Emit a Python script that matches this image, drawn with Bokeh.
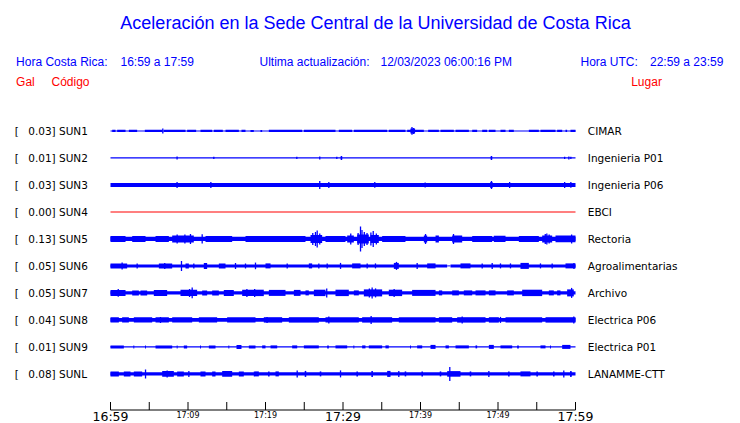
from bokeh.plotting import figure
from bokeh.models import Range1d
from bokeh.embed import file_html
from bokeh.resources import INLINE
from bokeh.core.properties import value

# ---------------- data ----------------
title_text = "Aceleración en la Sede Central de la Universidad de Costa Rica"
codes = ["SUN1", "SUN2", "SUN3", "SUN4", "SUN5", "SUN6", "SUN7", "SUN8", "SUN9", "SUNL"]
peaks = ["0.03", "0.01", "0.03", "0.00", "0.13", "0.05", "0.05", "0.04", "0.01", "0.08"]
places = ["CIMAR", "Ingenieria P01", "Ingenieria P06", "EBCI", "Rectoria",
          "Agroalimentarias", "Archivo", "Electrica P06", "Electrica P01", "LANAMME-CTT"]
trace_colors = ["#0000ff", "#0000ff", "#0000ff", "#ff0000", "#0000ff",
                "#0000ff", "#0000ff", "#0000ff", "#0000ff", "#0000ff"]
# background (noise) half amplitude of every trace, display units
base_amp = [0.5, 0.6, 2.0, 0.5, 2.2, 1.5, 1.6, 1.8, 0.6, 1.7]

# bursts: (start minute, end minute, half amplitude); spikes: (minute, half amplitude)
sun1_bursts = [(0.22, 0.65, 1.2), (0.86, 1.94, 1.2), (2.37, 3.44, 1.2), (4.43, 6.67, 1.2), (6.88, 9.68, 1.2),
               (9.89, 11.05, 1.2), (11.61, 13.12, 1.2), (13.33, 14.49, 1.2), (14.84, 16.56, 1.2), (16.9, 17.42, 1.2),
               (18.06, 18.49, 1.0), (19.35, 19.57, 1.0), (20.43, 24.73, 1.2), (24.95, 29.03, 1.2), (29.46, 31.18, 1.2),
               (31.4, 35.7, 1.2), (35.91, 38.06, 1.2), (38.28, 40.43, 1.2), (38.7, 39.3, 2.5), (40.99, 42.37, 1.2),
               (42.58, 44.3, 1.2), (44.52, 46.24, 1.2), (46.67, 47.31, 1.2), (47.96, 48.6, 1.2), (48.82, 49.68, 1.2),
               (50.32, 50.97, 1.2), (51.4, 52.04, 1.2), (53.98, 55.27, 1.2), (55.48, 57.42, 1.2), (57.63, 58.28, 1.2),
               (58.71, 58.92, 1.2), (59.35, 60.0, 1.2)]
sun1_spikes = [(6.75, 2.5), (38.9, 3.8), (39.1, 3.0)]
sun2_bursts = [(29.7, 29.9, 1.5), (49.05, 49.25, 1.5)]
sun2_spikes = [(8.59, 1.5), (13.33, 1.2), (24.04, 1.2), (27.0, 1.5), (29.2, 1.2), (29.8, 2.0),
               (49.16, 2.0), (58.6, 1.2), (59.14, 1.5), (59.4, 1.2)]
sun3_bursts = [(49.0, 49.3, 3.0)]
sun3_spikes = [(8.59, 3.0), (12.95, 3.0), (27.0, 4.0), (28.17, 3.0), (34.1, 2.8), (40.6, 2.5),
               (49.16, 4.0), (51.5, 3.0), (58.6, 3.0), (59.4, 2.8)]
sun4_bursts = []
sun4_spikes = []
sun5_bursts = [(0.0, 1.94, 3.0), (2.8, 4.52, 3.0), (5.81, 7.53, 3.0), (7.96, 10.75, 3.5), (12.26, 15.7, 3.0),
               (17.42, 25.16, 3.0), (25.81, 27.31, 4.0), (27.74, 30.32, 3.0), (30.54, 31.4, 3.5), (31.83, 33.33, 4.5),
               (33.55, 34.62, 4.0), (35.05, 38.06, 3.0), (40.43, 40.86, 3.5), (41.94, 42.37, 3.5), (44.09, 45.38, 3.5),
               (46.67, 49.25, 3.0), (49.46, 50.97, 3.2), (52.69, 55.27, 3.0), (55.7, 56.99, 3.5), (57.42, 60.0, 3.3)]
sun5_spikes = [(8.6, 4.5), (9.6, 4.5), (10.32, 5.0), (11.83, 4.7), (26.1, 6.0), (26.45, 7.0), (26.67, 8.5),
               (27.0, 5.5), (31.0, 5.5), (31.95, 6.0), (32.26, 12.5), (32.45, 9.0), (32.75, 7.0), (33.1, 6.0),
               (33.6, 6.5), (33.9, 8.0), (34.3, 5.5), (40.65, 5.0), (44.26, 5.0), (56.1, 5.0), (56.3, 5.5),
               (56.6, 4.5), (59.5, 4.5)]
sun6_bursts = [(0.0, 2.15, 2.5), (6.24, 7.96, 2.5), (9.68, 10.11, 2.5), (12.04, 12.47, 3.0), (13.98, 14.84, 2.5),
               (20.0, 20.65, 2.5), (25.59, 26.02, 2.5), (31.18, 32.26, 2.5), (36.56, 37.2, 3.0), (40.86, 41.94, 2.5),
               (45.16, 46.45, 2.5), (52.9, 53.98, 3.0), (58.71, 60.0, 2.5)]
sun6_spikes = [(1.5, 3.5), (3.44, 2.5), (7.0, 3.0), (9.16, 5.0), (10.75, 2.5), (16.13, 3.0), (17.42, 2.5),
               (18.71, 3.3), (22.8, 2.5), (26.88, 2.5), (27.96, 2.5), (29.68, 3.0), (33.12, 2.5), (34.19, 2.5),
               (36.9, 4.0), (39.57, 3.0), (47.96, 2.5), (49.25, 3.0), (50.32, 2.5), (51.61, 2.5), (55.48, 2.5),
               (56.99, 2.5), (59.8, 3.0)]
sun6_gaps = [(43.44, 43.87)]
sun7_bursts = [(0.0, 1.94, 3.0), (2.8, 3.66, 2.5), (3.87, 4.73, 2.5), (5.59, 7.31, 3.0), (9.03, 11.18, 3.2),
               (11.83, 12.47, 2.5), (13.12, 13.98, 2.5), (14.62, 15.91, 3.0), (16.99, 19.78, 3.2), (20.43, 22.58, 3.0),
               (23.66, 24.52, 3.0), (25.16, 25.59, 2.5), (26.24, 27.74, 3.2), (29.03, 30.75, 3.2), (31.4, 32.04, 2.5),
               (32.69, 35.05, 3.5), (35.91, 37.63, 3.2), (38.92, 41.94, 3.0), (42.37, 42.8, 2.5), (44.09, 44.95, 2.5),
               (45.59, 46.67, 2.5), (47.1, 48.39, 2.5), (48.82, 49.68, 2.5), (51.18, 52.04, 2.5), (53.12, 55.7, 3.2),
               (56.56, 57.2, 2.5), (57.63, 58.06, 2.5), (58.92, 59.78, 3.5)]
sun7_spikes = [(1.0, 3.8), (10.54, 5.3), (10.2, 4.0), (17.6, 4.0), (18.6, 4.0), (27.9, 4.5), (33.4, 4.5),
               (33.76, 5.5), (34.2, 4.5), (36.6, 4.0), (59.5, 5.0)]
sun8_bursts = [(0.0, 1.08, 2.7), (1.5, 2.37, 2.7), (3.01, 5.38, 2.7), (5.81, 7.53, 2.7), (7.96, 10.54, 2.7),
               (11.4, 13.76, 2.7), (15.05, 18.71, 2.7), (19.78, 22.15, 2.7), (23.01, 26.88, 2.7), (27.74, 32.04, 2.7),
               (32.47, 36.34, 2.7), (37.2, 41.94, 2.7), (42.37, 44.09, 2.7), (44.73, 48.39, 2.7), (48.82, 50.11, 2.7),
               (50.97, 55.7, 2.7), (56.13, 60.0, 2.7)]
sun8_spikes = [(6.45, 3.0), (20.2, 3.0), (28.17, 3.5), (33.63, 4.0), (45.38, 3.5), (50.32, 3.0), (59.78, 3.5)]
sun9_bursts = [(0.0, 1.72, 1.5), (2.95, 3.07, 1.5), (4.46, 4.58, 1.5), (5.81, 7.96, 1.5), (8.54, 8.66, 1.5),
               (9.46, 9.89, 1.5), (11.55, 11.67, 1.5), (12.69, 13.55, 1.5), (15.21, 15.33, 1.5), (16.26, 16.9, 2.0),
               (17.85, 18.71, 1.5), (19.57, 20.0, 1.5), (20.65, 21.51, 1.5), (23.44, 24.09, 1.5), (24.95, 26.88, 1.5),
               (27.96, 28.17, 1.5), (29.03, 30.54, 1.5), (31.34, 31.46, 1.5), (32.47, 32.9, 1.5), (33.33, 35.05, 1.5),
               (35.48, 35.91, 1.5), (38.65, 38.77, 1.5), (39.57, 40.22, 1.5), (41.29, 41.94, 2.0), (43.23, 43.66, 1.5),
               (44.52, 46.24, 1.5), (47.1, 47.31, 1.5), (48.82, 49.46, 2.0), (50.32, 51.83, 1.5), (52.47, 52.69, 1.5),
               (55.48, 56.13, 1.5), (56.71, 56.83, 1.5), (58.28, 59.35, 2.0)]
sun9_spikes = []
sunl_bursts = [(0.0, 1.08, 2.5), (1.72, 2.58, 2.5), (3.01, 4.09, 2.5), (6.67, 8.17, 2.8), (8.6, 9.46, 2.5),
               (11.61, 12.26, 2.5), (13.12, 13.55, 2.5), (14.41, 15.7, 2.8), (16.56, 17.2, 2.5), (18.49, 19.14, 2.5),
               (20.33, 20.53, 2.5), (21.29, 21.72, 2.5), (25.06, 25.26, 3.0), (27.0, 27.2, 2.5), (31.73, 31.93, 2.5),
               (33.66, 33.86, 3.0), (35.7, 36.13, 3.0), (37.96, 38.16, 2.5), (40.12, 40.32, 2.5), (42.48, 42.68, 2.5),
               (43.44, 45.16, 2.8), (46.35, 46.55, 2.5), (51.3, 51.5, 2.5), (52.9, 54.19, 2.5), (54.95, 55.15, 2.5),
               (57.1, 57.3, 2.5), (59.3, 59.5, 2.5)]
sunl_spikes = [(4.52, 4.5), (7.31, 3.5), (10.11, 3.0), (24.09, 3.5), (29.68, 3.5), (37.2, 3.0),
               (43.78, 7.0), (48.82, 3.0), (58.49, 3.5), (59.4, 3.0)]

all_bursts = [sun1_bursts, sun2_bursts, sun3_bursts, sun4_bursts, sun5_bursts,
              sun6_bursts, sun7_bursts, sun8_bursts, sun9_bursts, sunl_bursts]
all_spikes = [sun1_spikes, sun2_spikes, sun3_spikes, sun4_spikes, sun5_spikes,
              sun6_spikes, sun7_spikes, sun8_spikes, sun9_spikes, sunl_spikes]
all_gaps = [[], [], [], [], [], sun6_gaps, [], [], [], []]

trace_start, trace_end = 0.0, 60.0
tick_min = [0, 5, 10, 15, 20, 25, 30, 35, 40, 45, 50, 55, 60]
major_label_min = [0, 30, 60]
major_labels = ["16:59", "17:29", "17:59"]
minor_label_min = [10, 20, 40, 50]
minor_labels = ["17:09", "17:19", "17:39", "17:49"]

# ---------------- layout (canvas pixels) ----------------
W, H = 740, 423
PX_PER_MIN = 7.75
X0 = 110.0            # canvas px of minute 0
ROW0 = 130.4          # canvas px (from top) of first trace baseline
ROW_GAP = 27.0
AX_Y = 409.5


def mx(px):
    return (px - X0) / PX_PER_MIN


p = figure(width=W, height=H, output_backend="svg", toolbar_location=None,
           x_range=Range1d(-X0 / PX_PER_MIN, (W - X0) / PX_PER_MIN),
           y_range=Range1d(H, 0),
           x_axis_location=None, y_axis_location=None, min_border=0)
p.grid.visible = False
p.outline_line_color = None
p.background_fill_color = "white"
p.border_fill_color = "white"

# traces
ql, qr, qt, qb, qc = [], [], [], [], []
sx, sy0, sy1, sc = [], [], [], []
for i in range(len(codes)):
    yb = ROW0 + i * ROW_GAP
    col = trace_colors[i]
    pieces = []
    start = trace_start
    for g0, g1 in all_gaps[i]:
        pieces.append((start, g0, base_amp[i]))
        pieces.append((g0, g1, 0.5))
        start = g1
    pieces.append((start, trace_end, base_amp[i]))
    for t0, t1, a in pieces + all_bursts[i]:
        ql.append(t0); qr.append(t1); qt.append(yb - a); qb.append(yb + a); qc.append(col)
    for t, a in all_spikes[i]:
        sx.append(t); sy0.append(yb - a); sy1.append(yb + a); sc.append(col)

p.quad(left=ql, right=qr, top=qt, bottom=qb, fill_color=qc, line_color=None)
p.segment(x0=sx, x1=sx, y0=sy0, y1=sy1, line_color=sc, line_width=1.3)

# row labels
rows_y = [ROW0 + i * ROW_GAP for i in range(len(codes))]
lab_font = value("DejaVu Sans")
p.text(x=[mx(14.3)] * len(codes), y=rows_y, text=["["] * len(codes),
       text_font=lab_font, text_font_size="10.5px", text_color="black",
       text_align="left", text_baseline="middle")
p.text(x=[mx(27.7)] * len(codes), y=rows_y, text=[f"{pk}] {c}" for pk, c in zip(peaks, codes)],
       text_font=lab_font, text_font_size="10.5px", text_color="black",
       text_align="left", text_baseline="middle")
p.text(x=[mx(587.3)] * len(codes), y=rows_y, text=places,
       text_font=lab_font, text_font_size="10.5px", text_color="black",
       text_align="left", text_baseline="middle")

# header
hf = value("Liberation Sans")
p.text(x=[mx(375)], y=[22.5], text=[title_text], text_font=hf, text_font_size="18px",
       text_color="#0000ff", text_align="center", text_baseline="middle")
p.text(x=[mx(15.6), mx(120), mx(259), mx(380), mx(580), mx(649.5)], y=[61] * 6,
       text=["Hora Costa Rica:", "16:59 a 17:59", "Ultima actualización:",
             "12/03/2023 06:00:16 PM", "Hora UTC:", "22:59 a 23:59"],
       text_font=hf, text_font_size="12px", text_color="#0000ff",
       text_align="left", text_baseline="middle")
p.text(x=[mx(15.6), mx(51), mx(630.7)], y=[81.5] * 3, text=["Gal", "Código", "Lugar"],
       text_font=hf, text_font_size="12px", text_color="#ff0000",
       text_align="left", text_baseline="middle")

# time axis
p.segment(x0=[tick_min[0]], x1=[tick_min[-1]], y0=[AX_Y], y1=[AX_Y], line_color="black", line_width=1)
p.segment(x0=tick_min, x1=tick_min, y0=[AX_Y - 8] * len(tick_min), y1=[AX_Y] * len(tick_min),
          line_color="black", line_width=1)
p.text(x=major_label_min, y=[AX_Y + 6.5] * len(major_label_min), text=major_labels,
       text_font=lab_font, text_font_size="12.5px", text_color="black",
       text_align="center", text_baseline="middle")
p.text(x=minor_label_min, y=[AX_Y + 5.5] * len(minor_label_min), text=minor_labels,
       text_font=lab_font, text_font_size="8px", text_color="black",
       text_align="center", text_baseline="middle")

open("out.html", "w").write(file_html(p, INLINE))
